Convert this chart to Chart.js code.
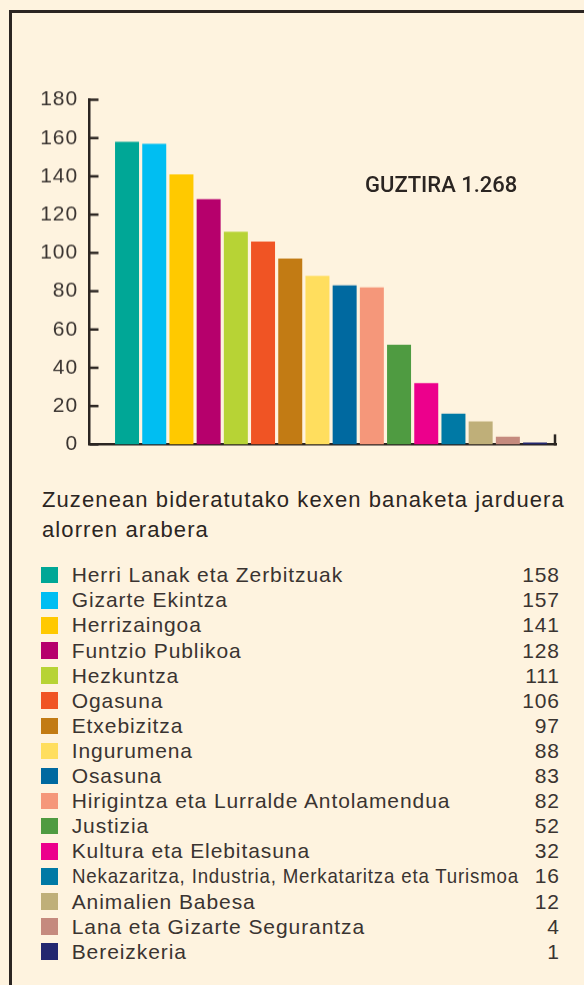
<!DOCTYPE html>
<html>
<head>
<meta charset="utf-8">
<script src="https://cdn.jsdelivr.net/npm/chart.js@4"></script>
<style>
  html, body { margin: 0; padding: 0; }
  body { width: 584px; height: 985px; background: #FEF3DF; position: relative; overflow: hidden;
         font-family: "Liberation Sans", Arial, sans-serif; color: #3a3431; }
  #frame { position: absolute; left: 9px; top: 10px; width: 700px; height: 1100px;
           border-left: 3px solid #2b2522; border-top: 3px solid #2b2522; }
  #chartBox { position: absolute; left: 0; top: 0; width: 584px; height: 467.5px; }
  #total { position: absolute; left: 365px; top: 172px; font-family: Roboto, sans-serif; font-weight: 500;
           font-size: 22px; color: #2b2522; white-space: nowrap; }
  #title { position: absolute; left: 42px; top: 485px; width: 532px; font-size: 22px; letter-spacing: 1.1px;
           line-height: 30px; color: #2b2522; }
  #legend { position: absolute; left: 41px; top: 562.3px; width: 518px; }
  .row { position: relative; height: 25.1px; line-height: 25px; font-size: 21px; white-space: nowrap; }
  .sw { position: absolute; left: 0; top: 4.7px; width: 16.5px; height: 16.5px; }
  .lab { position: absolute; left: 30.7px; top: 0; letter-spacing: 0.92px; transform-origin: 0 50%; display: inline-block; }
  .val { position: absolute; right: 0; top: 0; letter-spacing: 0.9px; margin-right: -0.9px; }
</style>
</head>
<body>
<div id="frame"></div>
<div id="chartBox"><canvas id="c"></canvas></div>
<div id="total"></div>
<div id="title">Zuzenean bideratutako kexen banaketa jarduera alorren arabera</div>
<div id="legend"></div>
<script>
const categories = [
  "Herri Lanak eta Zerbitzuak", "Gizarte Ekintza", "Herrizaingoa", "Funtzio Publikoa",
  "Hezkuntza", "Ogasuna", "Etxebizitza", "Ingurumena", "Osasuna",
  "Hirigintza eta Lurralde Antolamendua", "Justizia", "Kultura eta Elebitasuna",
  "Nekazaritza, Industria, Merkataritza eta Turismoa", "Animalien Babesa",
  "Lana eta Gizarte Segurantza", "Bereizkeria"
];
const values = [158, 157, 141, 128, 111, 106, 97, 88, 83, 82, 52, 32, 16, 12, 4, 1];
const colors = [
  "#00A796", "#00BEF2", "#FFC900", "#B6006C", "#B7D335", "#F05424", "#C27B14", "#FFDE5E",
  "#0069A0", "#F5977A", "#4F9B41", "#EC008C", "#0079A5", "#BFAF79", "#C58A7E", "#23276F"
];
const yTicks = [0, 20, 40, 60, 80, 100, 120, 140, 160, 180];

// total label
const total = values.reduce((a, b) => a + b, 0);
document.getElementById('total').textContent = 'GUZTIRA ' + total.toLocaleString('de-DE');

// legend
const lg = document.getElementById('legend');
const maxLabelW = 447;
categories.forEach((c, i) => {
  const r = document.createElement('div'); r.className = 'row';
  r.innerHTML = '<div class="sw" style="background:' + colors[i] + '"></div><span class="lab"></span><span class="val"></span>';
  const lab = r.querySelector('.lab');
  lab.textContent = c;
  r.querySelector('.val').textContent = values[i];
  lg.appendChild(r);
  const w = lab.getBoundingClientRect().width;
  if (w > maxLabelW) lab.style.transform = 'scaleX(' + (maxLabelW / w) + ')';
});

const AX = '#2b2522';
const axisDeco = {
  id: 'axisDeco',
  beforeDraw(chart) { try { chart.ctx.letterSpacing = '0.9px'; } catch (e) {} },
  afterDraw(chart) {
    const ctx = chart.ctx, y = chart.scales.y, x = chart.scales.x;
    ctx.save();
    ctx.strokeStyle = AX; ctx.lineWidth = 2.5; ctx.lineCap = 'butt';
    yTicks.forEach(t => {
      const py = y.getPixelForValue(t);
      ctx.beginPath(); ctx.moveTo(x.left, py); ctx.lineTo(x.left + 9, py); ctx.stroke();
    });
    // right end tick
    ctx.beginPath(); ctx.moveTo(x.right - 1, y.bottom + 1); ctx.lineTo(x.right - 1, y.bottom - 10); ctx.stroke();
    ctx.restore();
  }
};

new Chart(document.getElementById('c'), {
  type: 'bar',
  data: {
    datasets: [{
      data: values.map((v, i) => ({ x: i, y: v })),
      backgroundColor: colors,
      borderWidth: 0,
      categoryPercentage: 1,
      barPercentage: 0.882
    }]
  },
  options: {
    responsive: true, maintainAspectRatio: false, animation: false,
    layout: { padding: { left: 0, right: 28, top: 99.5, bottom: 10 } },
    plugins: { legend: { display: false }, tooltip: { enabled: false } },
    scales: {
      x: {
        type: 'linear', min: -1.38, max: 15.77, offset: false,
        ticks: { display: false },
        grid: { display: false, drawTicks: false, offset: false },
        border: { display: true, color: AX, width: 2.5 },
        afterFit: s => { s.height = 0; }
      },
      y: {
        min: 0, max: 180,
        afterBuildTicks: s => { s.ticks = yTicks.map(v => ({ value: v })); },
        ticks: { color: '#3a3431', padding: 11.5, font: { family: 'Liberation Sans', size: 21 } },
        grid: { display: false, drawTicks: false },
        border: { display: true, color: AX, width: 2.5 },
        afterFit: s => { s.width = 89.5; }
      }
    }
  },
  plugins: [axisDeco]
});
</script>
</body>
</html>
